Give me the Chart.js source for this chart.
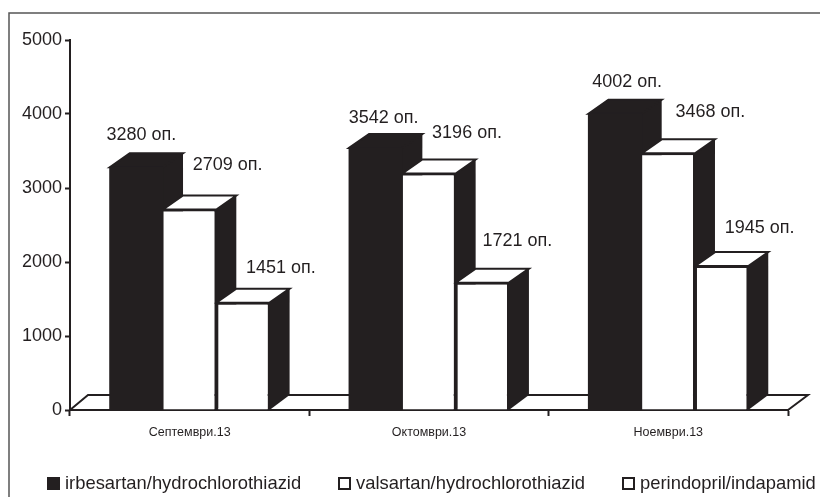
<!DOCTYPE html>
<html>
<head>
<meta charset="utf-8">
<title>Потребление</title>
<script src="https://cdn.jsdelivr.net/npm/chart.js@4"></script>
<style>
  html, body { margin: 0; padding: 0; background: #fff; overflow: hidden; }
  #wrap { width: 820px; height: 497px; }
</style>
</head>
<body>
<div id="wrap"><canvas id="packs" width="820" height="497"></canvas></div>
<script>
const months = ['Септември.13', 'Октомври.13', 'Ноември.13'];
const irbesartan = [3280, 3542, 4002];
const valsartan = [2709, 3196, 3468];
const perindopril = [1451, 1721, 1945];
const seriesNames = ['irbesartan/hydrochlorothiazid', 'valsartan/hydrochlorothiazid', 'perindopril/indapamid'];
const yTicks = [0, 1000, 2000, 3000, 4000, 5000];

const INK = '#231f20';
const DX = 20, DY = 14;   // depth of the fake 3d boxes
const FONT = '"Liberation Sans", Arial, sans-serif';

// where each value label sits, relative to the top centre of its bar
const labelOffsets = [
  [[5, -32], [8, -30], [12, -32]],
  [[38, -45], [38, -40], [42, -41]],
  [[38, -35], [35, -42], [38, -38]]
];
const legendBoxX = [47, 338, 622];
const legendTextX = [65, 356, 640];

const boxes3d = {
  id: 'boxes3d',
  beforeDatasetsDraw(chart) {
    const { ctx, chartArea: a } = chart;
    const y0 = a.bottom;

    // floor
    ctx.save();
    ctx.strokeStyle = INK;
    ctx.lineWidth = 2;
    ctx.beginPath();
    ctx.moveTo(a.left, y0);
    ctx.lineTo(a.left + 18, y0 - 15);
    ctx.lineTo(a.right + 20, y0 - 15);
    ctx.lineTo(a.right, y0);
    ctx.stroke();

    // side and top faces, back to front
    chart.data.datasets.forEach((ds, i) => {
      chart.getDatasetMeta(i).data.forEach(bar => {
        const l = bar.x - bar.width / 2, r = bar.x + bar.width / 2, t = bar.y;
        ctx.fillStyle = INK;
        ctx.beginPath();
        // start a pixel inside the front so no seam shows
        ctx.moveTo(r - 1, t);
        ctx.lineTo(r + DX, t - DY);
        ctx.lineTo(r + DX, y0 - 15);
        ctx.lineTo(r, y0);
        ctx.lineTo(r - 1, y0);
        ctx.closePath();
        ctx.fill();

        ctx.fillStyle = ds.backgroundColor;
        ctx.beginPath();
        ctx.moveTo(l, t);
        ctx.lineTo(l + DX, t - DY);
        ctx.lineTo(r + DX, t - DY);
        ctx.lineTo(r, t);
        ctx.closePath();
        ctx.fill();
        ctx.stroke();
      });
    });
    ctx.restore();
  },
  afterDraw(chart) {
    const { ctx } = chart;
    ctx.save();

    // outer frame, only left and top reach inside the canvas
    ctx.strokeStyle = '#555';
    ctx.lineWidth = 1.5;
    ctx.beginPath();
    ctx.moveTo(9, 497);
    ctx.lineTo(9, 13);
    ctx.lineTo(820, 13);
    ctx.stroke();

    ctx.fillStyle = INK;
    ctx.font = '18px ' + FONT;
    ctx.textBaseline = 'middle';

    // value labels
    ctx.textAlign = 'center';
    chart.data.datasets.forEach((ds, i) => {
      chart.getDatasetMeta(i).data.forEach((bar, j) => {
        const off = labelOffsets[i][j];
        ctx.fillText(ds.data[j] + ' оп.', bar.x + off[0], bar.y + off[1]);
      });
    });

    // legend row
    ctx.font = '18.4px ' + FONT;
    ctx.textAlign = 'left';
    chart.data.datasets.forEach((ds, i) => {
      ctx.fillStyle = ds.backgroundColor;
      ctx.strokeStyle = INK;
      ctx.lineWidth = 2;
      ctx.fillRect(legendBoxX[i] + 1, 478, 11, 11);
      ctx.strokeRect(legendBoxX[i] + 1, 478, 11, 11);
      ctx.fillStyle = INK;
      ctx.fillText(ds.label, legendTextX[i], 484);
    });
    ctx.restore();
  }
};

new Chart(document.getElementById('packs'), {
  type: 'bar',
  data: {
    labels: months,
    datasets: [
      { label: seriesNames[0], data: irbesartan, backgroundColor: INK, borderWidth: 0, inflateAmount: 0.5 },
      { label: seriesNames[1], data: valsartan, backgroundColor: '#fff', borderColor: INK, borderWidth: { top: 2, right: 2, bottom: 2 }, inflateAmount: 0 },
      { label: seriesNames[2], data: perindopril, backgroundColor: '#fff', borderColor: INK, borderWidth: 2, inflateAmount: 0 }
    ]
  },
  options: {
    responsive: false,
    animation: false,
    layout: { padding: { top: 40, right: 32 } },
    datasets: {
      bar: {
        barPercentage: 1,
        categoryPercentage: 0.668
      }
    },
    scales: {
      x: {
        afterFit(axis) { axis.height = 87; },
        border: { color: INK, width: 2 },
        grid: { drawOnChartArea: false, color: INK, tickLength: 6, tickWidth: 2 },
        ticks: {
          color: INK,
          padding: 9,
          maxRotation: 0,
          font: { family: FONT, size: 12.5 }
        }
      },
      y: {
        min: 0,
        max: 5000,
        afterFit(axis) { axis.width = 70; },
        afterBuildTicks(axis) { axis.ticks = yTicks.map(value => ({ value })); },
        border: { color: INK, width: 2 },
        grid: { drawOnChartArea: false, color: INK, tickLength: 5, tickWidth: 2 },
        ticks: {
          color: INK,
          padding: 3,
          font: { family: FONT, size: 18 },
          callback: value => String(value)
        }
      }
    },
    plugins: {
      legend: { display: false },
      tooltip: { enabled: false }
    }
  },
  plugins: [boxes3d]
});
</script>
</body>
</html>
